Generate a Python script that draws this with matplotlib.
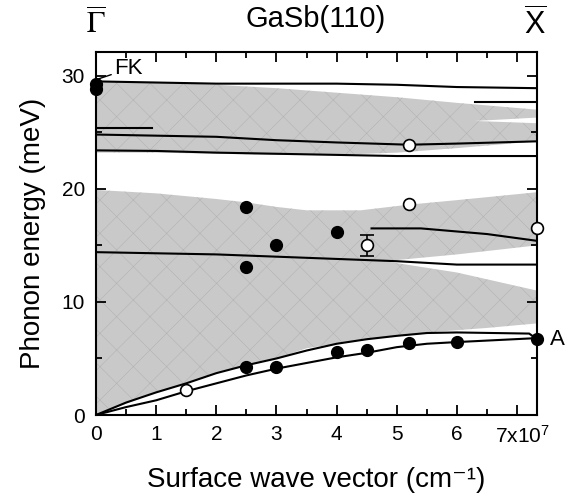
import numpy as np
import matplotlib
matplotlib.use("Agg")
import matplotlib.pyplot as plt
from matplotlib.ticker import MultipleLocator

plt.rcParams['font.family'] = ['Liberation Sans', 'DejaVu Sans']
plt.rcParams['mathtext.fontset'] = 'custom'
plt.rcParams['mathtext.rm'] = 'Liberation Sans'
plt.rcParams['mathtext.it'] = 'Liberation Sans'
plt.rcParams['hatch.linewidth'] = 0.4

X_END = 7.33  # X-bar point (x 1e7 cm^-1)

# shaded projected bulk bands (upper optical band)
up_k = [0, 1, 2, 3, 4, 5, 6, X_END]
up_top = [29.5, 29.4, 29.2, 28.9, 28.5, 28.1, 27.6, 27.0]
up_bot = [23.2, 23.2, 23.1, 23.0, 23.0, 23.2, 23.6, 24.2]
gap1_k = [6.3, X_END, X_END]
gap1_e = [26.0, 26.3, 25.8]

# big lower band: top edge and acoustic edge
mid_top_k = [0, 1, 2, 2.5, 3, 3.5, 4.4, 5.2, 6, X_END]
mid_top_e = [19.9, 19.6, 19.1, 18.8, 18.4, 18.1, 18.1, 18.6, 19.0, 19.7]
ac_edge_k = [0, 1, 2, 3, 3.5, 4, 4.7, 5.5, 6.5, X_END]
ac_edge_e = [0, 2.0, 3.7, 5.0, 5.9, 6.3, 6.8, 7.3, 7.7, 8.1]
gap2_k = [4.8, 6.0, X_END, X_END, 6.0]
gap2_e = [13.6, 14.2, 15.0, 11.0, 12.6]

# calculated surface phonon branches
l_top_k = [0, 1, 2, 3, 4, 5, 6, X_END]
l_top_e = [29.5, 29.4, 29.3, 29.3, 29.3, 29.2, 29.0, 28.9]
l_s1_k = [6.3, X_END]
l_s1_e = [27.7, 27.7]
l_s2_k = [0, 0.93]
l_s2_e = [25.4, 25.4]
l_u3_k = [0, 1, 2, 3, 4, 5.2, 6, X_END]
l_u3_e = [24.8, 24.7, 24.6, 24.3, 24.1, 23.9, 24.0, 24.2]
l_u4_k = [0, 1, 2, 3, 4, 5, X_END]
l_u4_e = [23.4, 23.35, 23.2, 23.1, 23.0, 22.9, 22.9]
l_m5_k = [0, 1, 2, 3, 4, 4.5, 5, 6, X_END]
l_m5_e = [14.4, 14.3, 14.2, 14.0, 13.8, 13.7, 13.6, 13.3, 13.3]
l_m6_k = [4.58, 5.4, 6.5, X_END]
l_m6_e = [16.5, 16.5, 16.0, 15.4]
l_a1_k = [0, 0.5, 1, 1.5, 2, 2.5, 3, 3.5, 4, 4.5, 5, 5.5, 6, 7.2, X_END]
l_a1_e = [0, 1.1, 2.0, 2.8, 3.7, 4.4, 5.0, 5.7, 6.3, 6.7, 7.0, 7.25, 7.3, 7.2, 6.7]
l_a2_k = [0, 0.5, 1, 1.5, 2, 2.5, 3, 3.5, 4, 4.5, 5, 5.5, 6, X_END]
l_a2_e = [0, 0.7, 1.3, 2.1, 2.8, 3.5, 4.1, 4.6, 5.1, 5.5, 6.0, 6.3, 6.45, 6.8]

# measured points
fill_k = [0, 0, 2.5, 3, 2.5, 4, 2.5, 3, 4, 4.5, 5.2, 6, X_END]
fill_e = [29.3, 28.8, 18.4, 15.0, 13.1, 16.2, 4.25, 4.25, 5.6, 5.75, 6.4, 6.45, 6.7]
open_k = [1.5, 5.2, 5.2, X_END]
open_e = [2.2, 23.9, 18.7, 16.5]
err_k = [4.5]
err_e = [15.0]
err_d = [0.95]

fig = plt.figure(figsize=(5.81, 4.96), dpi=100)
ax = fig.add_axes([0.1652, 0.1633, 0.7591, 0.7319])

shade = dict(facecolor='#c9c9c9', edgecolor='#b3b3b3', hatch='x', linewidth=0)
ax.fill(up_k + up_k[::-1], up_top + up_bot[::-1], **shade)
ax.fill(gap1_k, gap1_e, facecolor='white', linewidth=0)
ax.fill(mid_top_k + ac_edge_k[::-1], mid_top_e + ac_edge_e[::-1], **shade)
ax.fill(gap2_k, gap2_e, facecolor='white', linewidth=0)

for k, e in [(l_top_k, l_top_e), (l_s1_k, l_s1_e), (l_s2_k, l_s2_e),
             (l_u3_k, l_u3_e), (l_u4_k, l_u4_e), (l_m5_k, l_m5_e),
             (l_m6_k, l_m6_e), (l_a1_k, l_a1_e), (l_a2_k, l_a2_e)]:
    ax.plot(k, e, color='black', lw=1.5, zorder=3)

ax.errorbar(err_k, err_e, yerr=err_d, fmt='none', ecolor='black',
            elinewidth=1.2, capsize=5, capthick=1.2, zorder=4)
ax.plot(fill_k, fill_e, 'o', ms=8.5, mfc='black', mec='black', zorder=5, clip_on=False)
ax.plot(open_k, open_e, 'o', ms=8.5, mfc='white', mec='black', mew=1.2, zorder=5, clip_on=False)
ax.plot(err_k, err_e, 'o', ms=8.5, mfc='white', mec='black', mew=1.2, zorder=5)

ax.set_xlim(0, X_END)
ax.set_ylim(0, 32.1)
ax.xaxis.set_major_locator(MultipleLocator(1))
ax.xaxis.set_minor_locator(MultipleLocator(0.5))
ax.yaxis.set_major_locator(MultipleLocator(10))
ax.yaxis.set_minor_locator(MultipleLocator(5))
ax.tick_params(which='both', direction='in', top=True, right=True, width=1.3,
               labelsize=15)
ax.tick_params(axis='x', pad=7)
ax.tick_params(axis='y', pad=8)
ax.tick_params(which='major', length=7)
ax.tick_params(which='minor', length=4)
ax.set_xticks(range(8))
ax.set_xticklabels(['0', '1', '2', '3', '4', '5', '6', ''])
ax.annotate('7x10$^{7}$', xy=(7, 0), xycoords=('data', 'axes fraction'),
            xytext=(4, -7), textcoords='offset points', ha='center', va='top',
            fontsize=15)
for s in ax.spines.values():
    s.set_linewidth(1.5)

ax.annotate('FK', xy=(0.03, 29.7), xytext=(0.3, 30.6), fontsize=16, va='center',
            arrowprops=dict(arrowstyle='-', color='black', lw=1,
                            shrinkA=0, shrinkB=0))
ax.text(7.55, 6.7, 'A', fontsize=16, va='center', ha='left')

ax.set_xlabel('Surface wave vector (cm⁻¹)', fontsize=20, labelpad=17)
ax.set_ylabel('Phonon energy (meV)', fontsize=20, labelpad=11)

fig.text(0.544, 0.962, 'GaSb(110)', fontsize=21, ha='center', va='center')
fig.text(0.165, 0.95, r'$\overline{\Gamma}$', fontsize=22, ha='center',
         va='center', math_fontfamily='stix')
fig.text(0.921, 0.95, r'$\overline{\mathrm{X}}$', fontsize=22, ha='center',
         va='center', math_fontfamily='custom')

fig.savefig('out.png', dpi=100)
